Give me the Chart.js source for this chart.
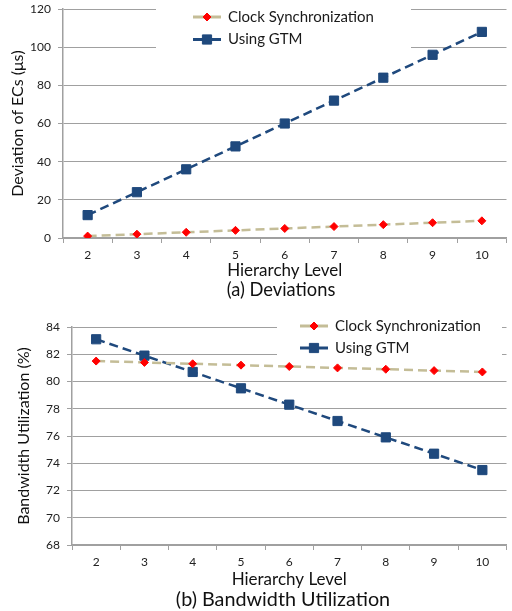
<!DOCTYPE html>
<html><head><meta charset="utf-8">
<script src="https://cdn.jsdelivr.net/npm/chart.js@4/dist/chart.umd.min.js"></script>
<style>
html,body{margin:0;padding:0;background:#fff;width:512px;height:611px;overflow:hidden;position:relative}
.wrap{position:absolute;left:0}
.cap{position:absolute;font-family:Lato;color:#111;white-space:nowrap;transform:translate(-50%,-50%)}
</style></head><body>
<div class="wrap" style="top:0;width:514px;height:281px"><canvas id="ca"></canvas></div>
<div class="cap" style="left:281px;top:289px;font-size:18.3px">(a) Deviations</div>
<div class="wrap" style="top:300px;width:514px;height:290px"><canvas id="cb"></canvas></div>
<div class="cap" style="left:283px;top:598px;font-size:19.8px">(b) Bandwidth Utilization</div>
<script>
const levels = ['2','3','4','5','6','7','8','9','10'];
const seriesNames = ['Clock Synchronization','Using GTM'];
const devClock = [1,2,3,4,5,6,7,8,9];
const devGTM = [12,24,36,48,60,72,84,96,108];
const bwClock = [81.5,81.4,81.3,81.2,81.1,81.0,80.9,80.8,80.7];
const bwGTM = [83.1,81.9,80.7,79.5,78.3,77.1,75.9,74.7,73.5];
const devTicks = {min:0,max:120,step:20};
const bwTicks = {min:68,max:84,step:2};

const FONT = 'Lato';
const GRID = '#a0a0a0';
const TAN = '#c4bd97', RED = '#ff0000', BLUE = '#1f497d';

const legendPlugin = {
  id: 'boxLegend',
  beforeDatasetsDraw(chart, args, o) {
    const ctx = chart.ctx;
    ctx.save();
    ctx.fillStyle = '#fff';
    ctx.fillRect(o.x0, o.y0, o.x1 - o.x0, o.y1 - o.y0);
    chart.data.datasets.forEach((ds, i) => {
      const y = o.ys[i];
      ctx.strokeStyle = ds.borderColor;
      ctx.lineWidth = 3;
      ctx.setLineDash([]);
      ctx.beginPath(); ctx.moveTo(o.sx0, y); ctx.lineTo(o.sx1, y); ctx.stroke();
      const mx = (o.sx0 + o.sx1) / 2;
      ctx.fillStyle = ds.pointBackgroundColor; ctx.strokeStyle = ds.pointBorderColor; ctx.lineWidth = 1;
      Chart.helpers.drawPoint(ctx, {pointStyle: ds.pointStyle, radius: ds.pointRadius, borderWidth: 1, rotation: 0}, mx, y);
      ctx.fillStyle = '#1a1a1a';
      ctx.font = '15px ' + FONT;
      ctx.textBaseline = 'middle';
      ctx.textAlign = 'left';
      ctx.fillText(ds.label, o.tx, y);
    });
    ctx.restore();
  }
};

function makeChart(id, clock, gtm, t, yTitle, yW, xH, padTop, yTitlePad, leg) {
  return new Chart(document.getElementById(id), {
    type: 'line',
    data: {
      labels: levels,
      datasets: [
        {label: seriesNames[0], data: clock, borderColor: TAN, borderWidth: 2.5, borderDash: [9,5],
         pointStyle: 'rectRot', pointRadius: 4, pointBackgroundColor: RED, pointBorderColor: RED, pointBorderWidth: 1, tension: 0},
        {label: seriesNames[1], data: gtm, borderColor: BLUE, borderWidth: 2.5, borderDash: [9,5],
         pointStyle: 'rect', pointRadius: 6.5, pointBackgroundColor: BLUE, pointBorderColor: BLUE, pointBorderWidth: 1, tension: 0}
      ]
    },
    plugins: [legendPlugin],
    options: {
      responsive: true, maintainAspectRatio: false, animation: false,
      layout: {padding: {top: padTop, right: 0, left: 0, bottom: 0}},
      plugins: {legend: {display: false}, tooltip: {enabled: false}, title: {display: false}, boxLegend: leg},
      scales: {
        x: {
          offset: true,
          grid: {display: true, drawOnChartArea: false, tickLength: 5, color: GRID, offset: true},
          border: {color: GRID, width: 1.5},
          ticks: {color: '#222', font: {family: FONT, size: 12}, padding: 5, maxRotation: 0},
          title: {display: true, text: 'Hierarchy Level', color: '#111', font: {family: FONT, size: 17}, padding: {top: 0, bottom: 0}},
          afterFit(s) { s.height = xH; s.paddingLeft = 0; s.paddingRight = 0; }
        },
        y: {
          min: t.min, max: t.max,
          grid: {color: GRID, lineWidth: 1, tickLength: 5},
          border: {color: GRID, width: 1.5},
          ticks: {stepSize: t.step, color: '#222', font: {family: FONT, size: 12}, padding: 7},
          title: {display: true, text: yTitle, color: '#111', font: {family: FONT, size: 16}, padding: {top: yTitlePad, bottom: 0}},
          afterFit(s) { s.width = yW; s.paddingTop = 0; s.paddingBottom = 0; }
        }
      }
    }
  });
}

makeChart('ca', devClock, devGTM, devTicks, 'Deviation of ECs (\u03bcs)', 63, 43, 9, 8,
  {x0: 156, x1: 411, y0: 0, y1: 55, sx0: 193, sx1: 221, tx: 228, ys: [17, 39.5]});
makeChart('cb', bwClock, bwGTM, bwTicks, 'Bandwidth Utilization (%)', 72, 45, 27, 14,
  {x0: 277, x1: 502, y0: 12, y1: 62, sx0: 300, sx1: 328, tx: 335, ys: [26, 48]});
</script>
</body></html>
